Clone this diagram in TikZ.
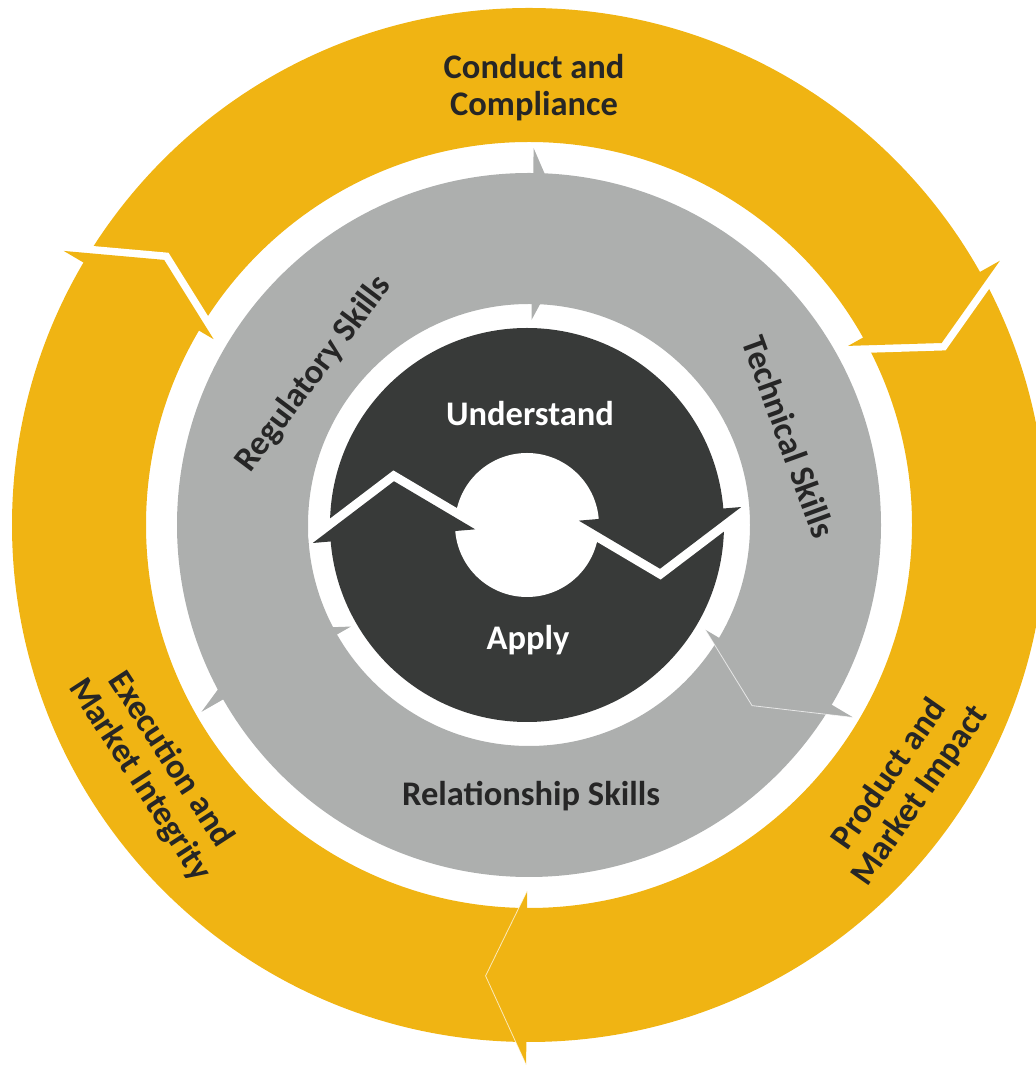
\documentclass[tikz,border=0pt]{standalone}
\usepackage{fontspec}
\setmainfont{Carlito}
\definecolor{ora}{RGB}{240,180,19}
\definecolor{gry}{RGB}{173,175,174}
\definecolor{drk}{RGB}{56,58,57}
\definecolor{txt}{RGB}{38,38,38}
\begin{document}
\begin{tikzpicture}[x=1pt,y=1pt,
  lbl/.style={font=\fontsize{34.5}{37}\selectfont\bfseries, inner sep=0pt, align=center},
  band/.style={white, line join=miter, miter limit=10},
  seam/.style={white, opacity=0.7, line width=0.8pt, line join=miter}]
\useasboundingbox (0,0) rectangle (1036,1071);
\clip (0,0) rectangle (1036,1071);
\begin{scope}[shift={(529,546)}]
  % outer ring
  \fill[ora, even odd rule] (0,0) circle (517) (0,0) circle (383);
  \foreach \b in {29.3,149.5}{
    \begin{scope}
      \clip (0,0) -- (\b:700) -- ({\b-60}:700) -- cycle;
      \draw[band, line width=15] (\b:540) -- ({\b-5.5}:451) -- (\b:366);
    \end{scope}
    \fill[ora] (\b:540) -- ({\b-5.5}:451) -- (\b:366) -- cycle;
  }
  \fill[ora] (-90.3:540) -- (-95.5:453) -- (-90.3:366) -- cycle;
  \draw[seam] (-90.3:540) -- (-95.5:453) -- (-90.3:366);
  % middle ring
  \fill[gry, even odd rule] (0,0) circle (352) (0,0) circle (221);
  \foreach \b in {89.3,-30.7,209.7}{
    \fill[gry] (\b:377) -- ({\b-8.3}:287) -- (\b:205) -- cycle;
  }
  \draw[seam] (-30.7:377) -- (-39:287) -- (-30.7:205);
  % inner ring
  \begin{scope}[shift={(-2,0)}]
    \fill[drk] (0,0) circle (197);
    \fill[white] (0,0) circle (72);
    \foreach \b in {4.8,184.8}{
      \begin{scope}
        \clip (0,0) circle (219);
        \clip (0,0) -- (\b:400) -- ({\b-90}:400) -- cycle;
        \draw[band, line width=18] (\b:215) -- ({\b-23}:140) -- (\b:52);
      \end{scope}
      \fill[drk] (\b:215) -- ({\b-23}:140) -- (\b:52) -- cycle;
    }
  \end{scope}
\end{scope}
% labels
\node[lbl, text=txt] (cc) at (534,983) {Conduct and\\Compliance};
\node[lbl, text=white, anchor=base] (und) at (530,645) {Understand};
\node[lbl, text=white, anchor=base] (app) at (528,421) {Apply};
\node[lbl, text=txt, anchor=base] (rel) at (531,265) {Relationship Skills};
\node[lbl, text=txt, rotate=53] (reg) at (314,697) {Regulatory Skills};
\node[lbl, text=txt, rotate=-70] (tec) at (789,634) {Technical Skills};
\node[lbl, text=txt, rotate=-57] (exe) at (155,301) {Execution and\\Market Integrity};
\node[lbl, text=txt, rotate=55] (pro) at (905,286) {Product and\\Market Impact};
\end{tikzpicture}
\end{document}
